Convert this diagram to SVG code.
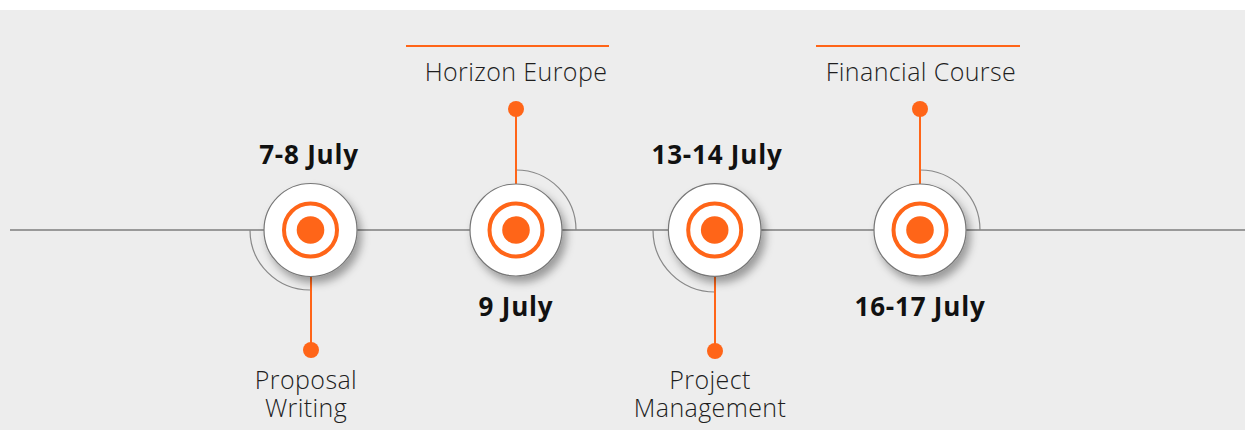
<svg xmlns="http://www.w3.org/2000/svg" width="1245" height="430" viewBox="0 0 1245 430">
<defs>
<filter id="sh" x="-40%" y="-40%" width="180%" height="180%">
<feDropShadow dx="4" dy="6" stdDeviation="4" flood-color="#000" flood-opacity="0.35"/>
</filter>
<style>
.bg{fill:#ededed}
.axis{stroke:#999;stroke-width:2;fill:none}
.arc{stroke:#888;stroke-width:1.2;fill:none}
.stem{stroke:#ff6518;stroke-width:2;fill:none}
.bar{stroke:#ff6518;stroke-width:2}
.dot{fill:#ff6518}
.disc{fill:#fff;stroke:#777;stroke-width:1.2}
.ring{fill:none;stroke:#ff6518;stroke-width:4}
.date{font-family:"Open Sans","Liberation Sans",sans-serif;font-weight:700;font-size:26px;letter-spacing:0.8px;fill:#111;text-anchor:middle}
.lbl{font-family:"Open Sans","Liberation Sans",sans-serif;font-weight:300;font-size:25px;letter-spacing:0.4px;fill:#1e1e1e;text-anchor:middle}
</style>
</defs>
<rect x="0" y="0" width="1245" height="430" fill="#fff"/>
<rect class="bg" x="0" y="10" width="1245" height="420"/>
<g id="connectors">
<line class="axis" x1="10" y1="230" x2="1245" y2="230"/>
<path class="arc" d="M250,230 A60,60 0 0 0 310,290"/>
<path class="arc" d="M516,170 A60,60 0 0 1 576,230"/>
<path class="arc" d="M653,230 A62,62 0 0 0 715,292"/>
<path class="arc" d="M920,170 A60,60 0 0 1 980,230"/>
<line class="stem" x1="311" y1="276" x2="311" y2="350"/>
<line class="stem" x1="516" y1="184" x2="516" y2="109"/>
<line class="stem" x1="715" y1="276" x2="715" y2="351"/>
<line class="stem" x1="920" y1="184" x2="920" y2="109"/>
</g>
<g id="node-proposal">
<circle class="disc" cx="310.5" cy="230" r="46.5" filter="url(#sh)"/>
<circle class="ring" cx="310.5" cy="230" r="26.5"/>
<circle class="dot" cx="310.5" cy="230" r="13.8"/>
<circle class="dot" cx="311" cy="350" r="8"/>
<text class="date" x="309" y="164">7-8 July</text>
<text class="lbl" x="306" y="389">Proposal<tspan x="306" dy="28">Writing</tspan></text>
</g>
<g id="node-horizon">
<circle class="disc" cx="516" cy="230" r="46" filter="url(#sh)"/>
<circle class="ring" cx="516" cy="230" r="26.5"/>
<circle class="dot" cx="516" cy="230" r="13.8"/>
<circle class="dot" cx="516" cy="109" r="8"/>
<line class="bar" x1="406" y1="46" x2="609" y2="46"/>
<text class="lbl" x="516" y="81">Horizon Europe</text>
<text class="date" x="516" y="316">9 July</text>
</g>
<g id="node-project">
<circle class="disc" cx="714.7" cy="230" r="46.3" filter="url(#sh)"/>
<circle class="ring" cx="714.7" cy="230" r="26.5"/>
<circle class="dot" cx="714.7" cy="230" r="13.8"/>
<circle class="dot" cx="715" cy="351" r="8"/>
<text class="date" x="717" y="164">13-14 July</text>
<text class="lbl" x="710" y="389">Project<tspan x="710" dy="28">Management</tspan></text>
</g>
<g id="node-financial">
<circle class="disc" cx="920" cy="230" r="46" filter="url(#sh)"/>
<circle class="ring" cx="920" cy="230" r="26.5"/>
<circle class="dot" cx="920" cy="230" r="13.8"/>
<circle class="dot" cx="920" cy="109" r="8"/>
<line class="bar" x1="816" y1="46" x2="1020" y2="46"/>
<text class="lbl" x="921" y="81">Financial Course</text>
<text class="date" x="920" y="316">16-17 July</text>
</g>
</svg>
